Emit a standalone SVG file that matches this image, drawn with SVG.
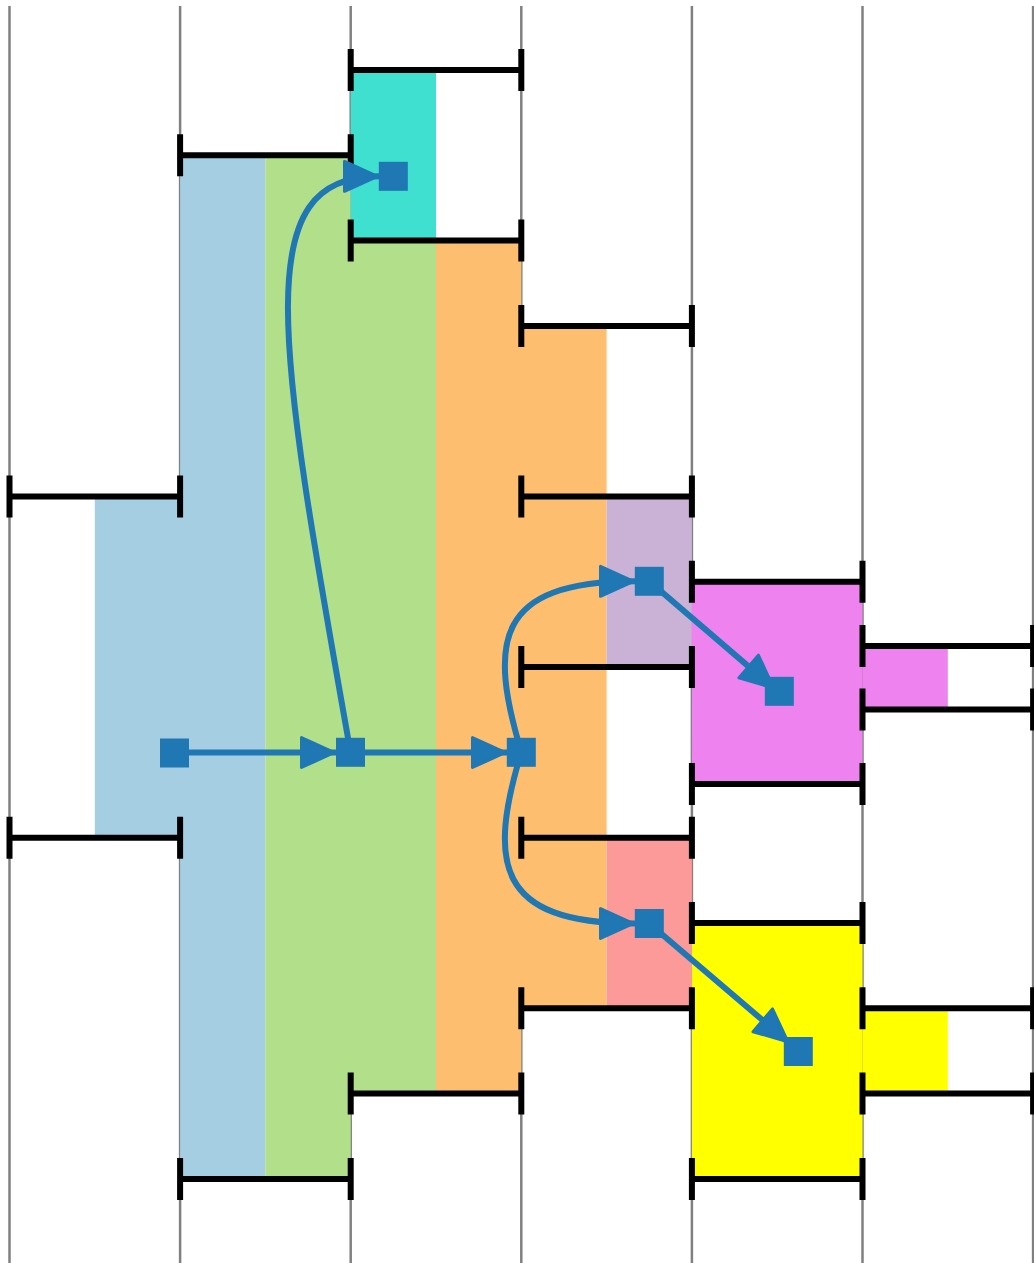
<svg xmlns="http://www.w3.org/2000/svg" width="1034" height="1263" viewBox="0 0 1034 1263">
<style>
.grid line{stroke:#808080;stroke-width:2.5}
.bar{stroke:#000;stroke-width:6;fill:none}
.tick{stroke:#000;stroke-width:6}
.edge{stroke:#1f77b4;stroke-width:6;fill:none;marker-end:url(#arr)}
.node{fill:#1f77b4}
</style>
<defs>
<marker id="arr" markerUnits="userSpaceOnUse" markerWidth="40" markerHeight="40" viewBox="0 -20 40 40" refX="36" refY="0" orient="auto" overflow="visible">
<path d="M1.5,-15 L34.5,0 L1.5,15 Z" fill="#1f77b4" stroke="#1f77b4" stroke-width="3" stroke-linejoin="round"/>
</marker>
</defs>
<rect width="1034" height="1263" fill="#fff"/>
<g id="grid" class="grid">
<line x1="9.5" y1="6" x2="9.5" y2="1263"/>
<line x1="180.1" y1="6" x2="180.1" y2="1263"/>
<line x1="350.7" y1="6" x2="350.7" y2="1263"/>
<line x1="521.3" y1="6" x2="521.3" y2="1263"/>
<line x1="691.9" y1="6" x2="691.9" y2="1263"/>
<line x1="862.5" y1="6" x2="862.5" y2="1263"/>
<line x1="1033.1" y1="6" x2="1033.1" y2="1263"/>
</g>
<g id="regions">
<rect x="94.8" y="496.5" width="86.5" height="341.2" fill="#a6cee3"/>
<rect x="180.1" y="155.3" width="85.3" height="1023.6" fill="#a6cee3"/>
<rect x="265.4" y="155.3" width="85.3" height="1023.6" fill="#b2df8a"/>
<rect x="349.5" y="240.6" width="86.5" height="853" fill="#b2df8a"/>
<rect x="350.7" y="70" width="85.3" height="170.6" fill="#40e0d0"/>
<rect x="436" y="240.6" width="85.3" height="853" fill="#fdbf6f"/>
<rect x="520.1" y="325.9" width="86.5" height="682.4" fill="#fdbf6f"/>
<rect x="606.6" y="496.5" width="85.3" height="170.6" fill="#cab2d6"/>
<rect x="606.6" y="837.7" width="85.3" height="170.6" fill="#fb9a99"/>
<rect x="691.9" y="581.8" width="170.6" height="202.2" fill="#ee82ee"/>
<rect x="862.5" y="646" width="85.3" height="63.5" fill="#ee82ee"/>
<rect x="691.9" y="923" width="170.6" height="255.9" fill="#ffff00"/>
<rect x="862.5" y="1008.3" width="85.3" height="85.3" fill="#ffff00"/>
</g>
<g id="bars">
<path class="bar" d="M350.7,70H521.3 M180.1,155.3H350.7 M350.7,240.6H521.3 M521.3,325.9H691.9 M9.5,496.5H180.1 M521.3,496.5H691.9 M691.9,581.8H862.5 M521.3,667.1H691.9 M862.5,646H1033.1 M862.5,709.5H1033.1 M691.9,784H862.5 M9.5,837.7H180.1 M521.3,837.7H691.9 M691.9,923H862.5 M521.3,1008.3H691.9 M862.5,1008.3H1033.1 M350.7,1093.6H521.3 M862.5,1093.6H1033.1 M180.1,1178.9H350.7 M691.9,1178.9H862.5"/>
<path class="tick" d="M350.7,49v42 M521.3,49v42 M180.1,134.3v42 M350.7,134.3v42 M350.7,219.6v42 M521.3,219.6v42 M521.3,304.9v42 M691.9,304.9v42 M9.5,475.5v42 M180.1,475.5v42 M521.3,475.5v42 M691.9,475.5v42 M691.9,560.8v42 M862.5,560.8v42 M521.3,646.1v42 M691.9,646.1v42 M862.5,625v42 M1033.1,625v42 M862.5,688.5v42 M1033.1,688.5v42 M691.9,763v42 M862.5,763v42 M9.5,816.7v42 M180.1,816.7v42 M521.3,816.7v42 M691.9,816.7v42 M691.9,902v42 M862.5,902v42 M521.3,987.3v42 M691.9,987.3v42 M862.5,987.3v42 M1033.1,987.3v42 M350.7,1072.6v42 M521.3,1072.6v42 M862.5,1072.6v42 M1033.1,1072.6v42 M180.1,1157.9v42 M350.7,1157.9v42 M691.9,1157.9v42 M862.5,1157.9v42"/>
</g>
<g id="connectors">
<path class="edge" d="M174.5,752.5 L336,752.5"/>
<path class="edge" d="M350.5,752.5 L507,752.5"/>
<path class="edge" d="M350.5,752 C275.7,332 249,176.3 379,176.3"/>
<path class="edge" d="M521.3,752 C488.3,642 495,581.3 635,581.3"/>
<path class="edge" d="M521.3,752 C488.3,862 495,923.5 635,923.5"/>
<path class="edge" d="M649.3,581.3 L774.8,689"/>
<path class="edge" d="M649.3,923.5 L789,1042.7"/>
</g>
<g id="node1"><rect class="node" x="378.8" y="161.8" width="29" height="29"/></g>
<g id="node2"><rect class="node" x="160" y="738.5" width="29" height="29"/></g>
<g id="node3"><rect class="node" x="336" y="737.8" width="29" height="29"/></g>
<g id="node4"><rect class="node" x="506.8" y="737.8" width="29" height="29"/></g>
<g id="node5"><rect class="node" x="634.8" y="566.8" width="29" height="29"/></g>
<g id="node6"><rect class="node" x="764.8" y="676.8" width="29" height="29"/></g>
<g id="node7"><rect class="node" x="634.8" y="909" width="29" height="29"/></g>
<g id="node8"><rect class="node" x="783.8" y="1037" width="29" height="29"/></g>
</svg>
